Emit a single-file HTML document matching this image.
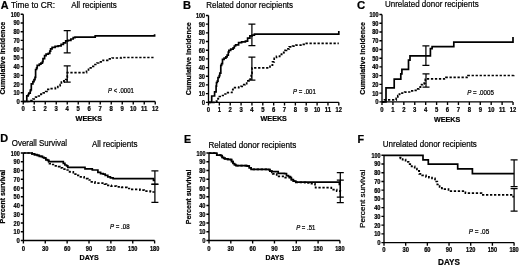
<!DOCTYPE html><html><head><meta charset="utf-8"><style>html,body{margin:0;padding:0;background:#fff;}svg{display:block;filter:blur(0.3px);}</style></head><body>
<svg width="520" height="265" viewBox="0 0 520 265" font-family='"Liberation Sans", sans-serif' fill="#000">
<rect width="520" height="265" fill="#fff"/>
<style>text{stroke:#000;stroke-width:0.22px;}</style>
<path d="M23.25 14.25V101.5M20.65 101.50H23.25M20.65 92.78H23.25M20.65 84.05H23.25M20.65 75.33H23.25M20.65 66.60H23.25M20.65 57.88H23.25M20.65 49.15H23.25M20.65 40.42H23.25M20.65 31.70H23.25M20.65 22.97H23.25M20.65 14.25H23.25M23.25 101.5H155.25M23.25 101.5V104.6M34.25 101.5V104.6M45.25 101.5V104.6M56.25 101.5V104.6M67.25 101.5V104.6M78.25 101.5V104.6M89.25 101.5V104.6M100.25 101.5V104.6M111.25 101.5V104.6M122.25 101.5V104.6M133.25 101.5V104.6M144.25 101.5V104.6M155.25 101.5V104.6" fill="none" stroke="#000" stroke-width="1.35"/>
<text x="19.75" y="104.00" font-size="6.3" font-weight="bold" text-anchor="end" textLength="3.3" lengthAdjust="spacingAndGlyphs">0</text>
<text x="19.75" y="95.28" font-size="6.3" font-weight="bold" text-anchor="end" textLength="6.3" lengthAdjust="spacingAndGlyphs">10</text>
<text x="19.75" y="86.55" font-size="6.3" font-weight="bold" text-anchor="end" textLength="6.3" lengthAdjust="spacingAndGlyphs">20</text>
<text x="19.75" y="77.83" font-size="6.3" font-weight="bold" text-anchor="end" textLength="6.3" lengthAdjust="spacingAndGlyphs">30</text>
<text x="19.75" y="69.10" font-size="6.3" font-weight="bold" text-anchor="end" textLength="6.3" lengthAdjust="spacingAndGlyphs">40</text>
<text x="19.75" y="60.38" font-size="6.3" font-weight="bold" text-anchor="end" textLength="6.3" lengthAdjust="spacingAndGlyphs">50</text>
<text x="19.75" y="51.65" font-size="6.3" font-weight="bold" text-anchor="end" textLength="6.3" lengthAdjust="spacingAndGlyphs">60</text>
<text x="19.75" y="42.92" font-size="6.3" font-weight="bold" text-anchor="end" textLength="6.3" lengthAdjust="spacingAndGlyphs">70</text>
<text x="19.75" y="34.20" font-size="6.3" font-weight="bold" text-anchor="end" textLength="6.3" lengthAdjust="spacingAndGlyphs">80</text>
<text x="19.75" y="25.47" font-size="6.3" font-weight="bold" text-anchor="end" textLength="6.3" lengthAdjust="spacingAndGlyphs">90</text>
<text x="19.75" y="16.75" font-size="6.3" font-weight="bold" text-anchor="end" textLength="9.1" lengthAdjust="spacingAndGlyphs">100</text>
<text x="23.25" y="110.90" font-size="6.3" font-weight="bold" text-anchor="middle" textLength="3.3" lengthAdjust="spacingAndGlyphs">0</text>
<text x="34.25" y="110.90" font-size="6.3" font-weight="bold" text-anchor="middle" textLength="3.3" lengthAdjust="spacingAndGlyphs">1</text>
<text x="45.25" y="110.90" font-size="6.3" font-weight="bold" text-anchor="middle" textLength="3.3" lengthAdjust="spacingAndGlyphs">2</text>
<text x="56.25" y="110.90" font-size="6.3" font-weight="bold" text-anchor="middle" textLength="3.3" lengthAdjust="spacingAndGlyphs">3</text>
<text x="67.25" y="110.90" font-size="6.3" font-weight="bold" text-anchor="middle" textLength="3.3" lengthAdjust="spacingAndGlyphs">4</text>
<text x="78.25" y="110.90" font-size="6.3" font-weight="bold" text-anchor="middle" textLength="3.3" lengthAdjust="spacingAndGlyphs">5</text>
<text x="89.25" y="110.90" font-size="6.3" font-weight="bold" text-anchor="middle" textLength="3.3" lengthAdjust="spacingAndGlyphs">6</text>
<text x="100.25" y="110.90" font-size="6.3" font-weight="bold" text-anchor="middle" textLength="3.3" lengthAdjust="spacingAndGlyphs">7</text>
<text x="111.25" y="110.90" font-size="6.3" font-weight="bold" text-anchor="middle" textLength="3.3" lengthAdjust="spacingAndGlyphs">8</text>
<text x="122.25" y="110.90" font-size="6.3" font-weight="bold" text-anchor="middle" textLength="3.3" lengthAdjust="spacingAndGlyphs">9</text>
<text x="133.25" y="110.90" font-size="6.3" font-weight="bold" text-anchor="middle" textLength="6.4" lengthAdjust="spacingAndGlyphs">10</text>
<text x="144.25" y="110.90" font-size="6.3" font-weight="bold" text-anchor="middle" textLength="6.4" lengthAdjust="spacingAndGlyphs">11</text>
<text x="155.25" y="110.90" font-size="6.3" font-weight="bold" text-anchor="middle" textLength="6.4" lengthAdjust="spacingAndGlyphs">12</text>
<path d="M23.25 101.5H26.8V101.5H26.8V95.9H28.2V94.5H28.8V93.2H30.2V91.1H30.5V89.8H31.3V87.7H31.3V83.8H32.9V81.7H34V79.6H35V77.4H35.6V74.8H35.6V69.5H36.6V67.9H37.2V65.3H39.3V64.2H40.9V63.2H42.4V61.6H43V58.7H44.6V55.6H46.1V54.1H48.3V53.4H49.8V51.1H50.6V48.9H52.1V47.3H55.1V46.3H58.1V45.8H61.1V44.3H63.4V42.8H65.7V40.9H67.9V40.3H70.9V39H73.2V37.7H75V37.2H95.2V35.9H154.6V34.2" fill="none" stroke="#000" stroke-width="1.7"/>
<path d="M23.25 101.5H31V101.5H31V100.6H32.9V99H35.6V97.2H38.5V96H40.9V94.2H43.3V92.9H45.7V91.5H46.9V89.3H50V88.7H55.4V87.5H57.8V85.7H60.2V84.5H61.4V82.1H63.9V80.9H65.7V79.7H66.9V77.2H67.3V72.6H86.5V70H88.5V67.8H91V66.3H95V64.5H97V63H98.6V61.9H103.1V60.3H107.6V58.9H112.1V58H121.2V57.5H154.6V57.5" fill="none" stroke="#000" stroke-width="1.7" stroke-dasharray="2.3 1.7"/>
<path d="M67.2 30.6V52.8M63.7 30.6H70.7M63.7 52.8H70.7" fill="none" stroke="#000" stroke-width="1.25"/>
<path d="M67.2 65.8V82.1M63.7 65.8H70.7M63.7 82.1H70.7" fill="none" stroke="#000" stroke-width="1.25"/>
<path d="M208.5 15.5V102.3M205.9 102.30H208.5M205.9 93.62H208.5M205.9 84.94H208.5M205.9 76.26H208.5M205.9 67.58H208.5M205.9 58.90H208.5M205.9 50.22H208.5M205.9 41.54H208.5M205.9 32.86H208.5M205.9 24.18H208.5M205.9 15.50H208.5M208.5 102.3H338.82M208.50 102.3V105.39999999999999M219.36 102.3V105.39999999999999M230.22 102.3V105.39999999999999M241.08 102.3V105.39999999999999M251.94 102.3V105.39999999999999M262.80 102.3V105.39999999999999M273.66 102.3V105.39999999999999M284.52 102.3V105.39999999999999M295.38 102.3V105.39999999999999M306.24 102.3V105.39999999999999M317.10 102.3V105.39999999999999M327.96 102.3V105.39999999999999M338.82 102.3V105.39999999999999" fill="none" stroke="#000" stroke-width="1.35"/>
<text x="205.00" y="104.80" font-size="6.3" font-weight="bold" text-anchor="end" textLength="3.3" lengthAdjust="spacingAndGlyphs">0</text>
<text x="205.00" y="96.12" font-size="6.3" font-weight="bold" text-anchor="end" textLength="6.3" lengthAdjust="spacingAndGlyphs">10</text>
<text x="205.00" y="87.44" font-size="6.3" font-weight="bold" text-anchor="end" textLength="6.3" lengthAdjust="spacingAndGlyphs">20</text>
<text x="205.00" y="78.76" font-size="6.3" font-weight="bold" text-anchor="end" textLength="6.3" lengthAdjust="spacingAndGlyphs">30</text>
<text x="205.00" y="70.08" font-size="6.3" font-weight="bold" text-anchor="end" textLength="6.3" lengthAdjust="spacingAndGlyphs">40</text>
<text x="205.00" y="61.40" font-size="6.3" font-weight="bold" text-anchor="end" textLength="6.3" lengthAdjust="spacingAndGlyphs">50</text>
<text x="205.00" y="52.72" font-size="6.3" font-weight="bold" text-anchor="end" textLength="6.3" lengthAdjust="spacingAndGlyphs">60</text>
<text x="205.00" y="44.04" font-size="6.3" font-weight="bold" text-anchor="end" textLength="6.3" lengthAdjust="spacingAndGlyphs">70</text>
<text x="205.00" y="35.36" font-size="6.3" font-weight="bold" text-anchor="end" textLength="6.3" lengthAdjust="spacingAndGlyphs">80</text>
<text x="205.00" y="26.68" font-size="6.3" font-weight="bold" text-anchor="end" textLength="6.3" lengthAdjust="spacingAndGlyphs">90</text>
<text x="205.00" y="18.00" font-size="6.3" font-weight="bold" text-anchor="end" textLength="9.1" lengthAdjust="spacingAndGlyphs">100</text>
<text x="208.50" y="111.90" font-size="6.3" font-weight="bold" text-anchor="middle" textLength="3.3" lengthAdjust="spacingAndGlyphs">0</text>
<text x="219.36" y="111.90" font-size="6.3" font-weight="bold" text-anchor="middle" textLength="3.3" lengthAdjust="spacingAndGlyphs">1</text>
<text x="230.22" y="111.90" font-size="6.3" font-weight="bold" text-anchor="middle" textLength="3.3" lengthAdjust="spacingAndGlyphs">2</text>
<text x="241.08" y="111.90" font-size="6.3" font-weight="bold" text-anchor="middle" textLength="3.3" lengthAdjust="spacingAndGlyphs">3</text>
<text x="251.94" y="111.90" font-size="6.3" font-weight="bold" text-anchor="middle" textLength="3.3" lengthAdjust="spacingAndGlyphs">4</text>
<text x="262.80" y="111.90" font-size="6.3" font-weight="bold" text-anchor="middle" textLength="3.3" lengthAdjust="spacingAndGlyphs">5</text>
<text x="273.66" y="111.90" font-size="6.3" font-weight="bold" text-anchor="middle" textLength="3.3" lengthAdjust="spacingAndGlyphs">6</text>
<text x="284.52" y="111.90" font-size="6.3" font-weight="bold" text-anchor="middle" textLength="3.3" lengthAdjust="spacingAndGlyphs">7</text>
<text x="295.38" y="111.90" font-size="6.3" font-weight="bold" text-anchor="middle" textLength="3.3" lengthAdjust="spacingAndGlyphs">8</text>
<text x="306.24" y="111.90" font-size="6.3" font-weight="bold" text-anchor="middle" textLength="3.3" lengthAdjust="spacingAndGlyphs">9</text>
<text x="317.10" y="111.90" font-size="6.3" font-weight="bold" text-anchor="middle" textLength="6.4" lengthAdjust="spacingAndGlyphs">10</text>
<text x="327.96" y="111.90" font-size="6.3" font-weight="bold" text-anchor="middle" textLength="6.4" lengthAdjust="spacingAndGlyphs">11</text>
<text x="338.82" y="111.90" font-size="6.3" font-weight="bold" text-anchor="middle" textLength="6.4" lengthAdjust="spacingAndGlyphs">12</text>
<path d="M208.5 102.3H211.7V102.3H211.7V96H214.6V96H214.6V91.9H216.1V91.9H216.1V86.2H216.5V82.5H217.3V81.2H218V77.5H219.2V75.6H219.8V73.1H220.8V71.9H220.8V65.4H221.6V63.6H222.5V59.3H224.1V58.1H225.9V56.9H227.1V55.1H228.3V52.1H228.9V50.3H230.7V49.1H233.1V47.9H234.3V46H235.6V44.9H238.6V42.6H241.6V41.9H245.4V41.1H247.6V38.1H249.9V35.8H252.2V35.1H254.4V34.1H338.8V31.1" fill="none" stroke="#000" stroke-width="1.7"/>
<path d="M208.5 102.3H216.5V102.3H216.5V101.2H218V98.7H219.4V96.5H221.5V95.5H224V94H226.5V92.6H230.5V92.5H231.9V89.7H233V87.6H238.8V87H241V86.4H242.2V84.7H245V83.6H246.7V80.8H249V79.1H250.7V76.8H251.2V73.4H252V67.9H268.1V67.9H270V65.2H272.5V61.8H274.2V58.4H276.5V56.4H279.7V54.3H281.7V53H283.7V52.3H285.1V50.3H286.5V48.9H289.2V46.9H292.6V46.2H296V45.2H303.4V44.4H305.5V43.3H338.8V43.3" fill="none" stroke="#000" stroke-width="1.7" stroke-dasharray="2.3 1.7"/>
<path d="M251.9 24.2V45.7M248.4 24.2H255.4M248.4 45.7H255.4" fill="none" stroke="#000" stroke-width="1.25"/>
<path d="M251.9 57.2V80.2M248.4 57.2H255.4M248.4 80.2H255.4" fill="none" stroke="#000" stroke-width="1.25"/>
<path d="M382 14.5V101.9M379.4 101.90H382M379.4 93.16H382M379.4 84.42H382M379.4 75.68H382M379.4 66.94H382M379.4 58.20H382M379.4 49.46H382M379.4 40.72H382M379.4 31.98H382M379.4 23.24H382M379.4 14.50H382M382 101.9H513.04M382.00 101.9V105.0M392.92 101.9V105.0M403.84 101.9V105.0M414.76 101.9V105.0M425.68 101.9V105.0M436.60 101.9V105.0M447.52 101.9V105.0M458.44 101.9V105.0M469.36 101.9V105.0M480.28 101.9V105.0M491.20 101.9V105.0M502.12 101.9V105.0M513.04 101.9V105.0" fill="none" stroke="#000" stroke-width="1.35"/>
<text x="378.50" y="104.40" font-size="6.3" font-weight="bold" text-anchor="end" textLength="3.3" lengthAdjust="spacingAndGlyphs">0</text>
<text x="378.50" y="95.66" font-size="6.3" font-weight="bold" text-anchor="end" textLength="6.3" lengthAdjust="spacingAndGlyphs">10</text>
<text x="378.50" y="86.92" font-size="6.3" font-weight="bold" text-anchor="end" textLength="6.3" lengthAdjust="spacingAndGlyphs">20</text>
<text x="378.50" y="78.18" font-size="6.3" font-weight="bold" text-anchor="end" textLength="6.3" lengthAdjust="spacingAndGlyphs">30</text>
<text x="378.50" y="69.44" font-size="6.3" font-weight="bold" text-anchor="end" textLength="6.3" lengthAdjust="spacingAndGlyphs">40</text>
<text x="378.50" y="60.70" font-size="6.3" font-weight="bold" text-anchor="end" textLength="6.3" lengthAdjust="spacingAndGlyphs">50</text>
<text x="378.50" y="51.96" font-size="6.3" font-weight="bold" text-anchor="end" textLength="6.3" lengthAdjust="spacingAndGlyphs">60</text>
<text x="378.50" y="43.22" font-size="6.3" font-weight="bold" text-anchor="end" textLength="6.3" lengthAdjust="spacingAndGlyphs">70</text>
<text x="378.50" y="34.48" font-size="6.3" font-weight="bold" text-anchor="end" textLength="6.3" lengthAdjust="spacingAndGlyphs">80</text>
<text x="378.50" y="25.74" font-size="6.3" font-weight="bold" text-anchor="end" textLength="6.3" lengthAdjust="spacingAndGlyphs">90</text>
<text x="378.50" y="17.00" font-size="6.3" font-weight="bold" text-anchor="end" textLength="9.1" lengthAdjust="spacingAndGlyphs">100</text>
<text x="382.00" y="111.50" font-size="6.3" font-weight="bold" text-anchor="middle" textLength="3.3" lengthAdjust="spacingAndGlyphs">0</text>
<text x="392.92" y="111.50" font-size="6.3" font-weight="bold" text-anchor="middle" textLength="3.3" lengthAdjust="spacingAndGlyphs">1</text>
<text x="403.84" y="111.50" font-size="6.3" font-weight="bold" text-anchor="middle" textLength="3.3" lengthAdjust="spacingAndGlyphs">2</text>
<text x="414.76" y="111.50" font-size="6.3" font-weight="bold" text-anchor="middle" textLength="3.3" lengthAdjust="spacingAndGlyphs">3</text>
<text x="425.68" y="111.50" font-size="6.3" font-weight="bold" text-anchor="middle" textLength="3.3" lengthAdjust="spacingAndGlyphs">4</text>
<text x="436.60" y="111.50" font-size="6.3" font-weight="bold" text-anchor="middle" textLength="3.3" lengthAdjust="spacingAndGlyphs">5</text>
<text x="447.52" y="111.50" font-size="6.3" font-weight="bold" text-anchor="middle" textLength="3.3" lengthAdjust="spacingAndGlyphs">6</text>
<text x="458.44" y="111.50" font-size="6.3" font-weight="bold" text-anchor="middle" textLength="3.3" lengthAdjust="spacingAndGlyphs">7</text>
<text x="469.36" y="111.50" font-size="6.3" font-weight="bold" text-anchor="middle" textLength="3.3" lengthAdjust="spacingAndGlyphs">8</text>
<text x="480.28" y="111.50" font-size="6.3" font-weight="bold" text-anchor="middle" textLength="3.3" lengthAdjust="spacingAndGlyphs">9</text>
<text x="491.20" y="111.50" font-size="6.3" font-weight="bold" text-anchor="middle" textLength="6.4" lengthAdjust="spacingAndGlyphs">10</text>
<text x="502.12" y="111.50" font-size="6.3" font-weight="bold" text-anchor="middle" textLength="6.4" lengthAdjust="spacingAndGlyphs">11</text>
<text x="513.04" y="111.50" font-size="6.3" font-weight="bold" text-anchor="middle" textLength="6.4" lengthAdjust="spacingAndGlyphs">12</text>
<path d="M382 101.9H386V87.8H394.2V79.2H400.8V73.9H401.9V69.3H408.5V60.2H410V55.9H430.4V48.6H432.1V46.6H453.8V42.1H513V37" fill="none" stroke="#000" stroke-width="1.7"/>
<path d="M382 101.9H384.5V101.9H384.5V99.9H394.1V99.9H396.2V98.3H397.8V95.6H399.4V94.1H402V93H404.7V92.2H407.8V92H410.5V90.9H414.2V90.4H416.8V88.8H418.9V87.2H420.5V84.6H422.6V84H424.2V83H425.3V79.3H426.8V78.8H446V77.4H468V75.5H513.7V73.7" fill="none" stroke="#000" stroke-width="1.7" stroke-dasharray="2.3 1.7"/>
<path d="M425.9 45.8V65.3M422.4 45.8H429.4M422.4 65.3H429.4" fill="none" stroke="#000" stroke-width="1.25"/>
<path d="M426 73.9V87.2M422.5 73.9H429.5M422.5 87.2H429.5" fill="none" stroke="#000" stroke-width="1.25"/>
<path d="M23.4 153.0V240.5M20.799999999999997 240.50H23.4M20.799999999999997 231.75H23.4M20.799999999999997 223.00H23.4M20.799999999999997 214.25H23.4M20.799999999999997 205.50H23.4M20.799999999999997 196.75H23.4M20.799999999999997 188.00H23.4M20.799999999999997 179.25H23.4M20.799999999999997 170.50H23.4M20.799999999999997 161.75H23.4M20.799999999999997 153.00H23.4M23.4 240.5H154.62M23.40 240.5V243.6M45.27 240.5V243.6M67.14 240.5V243.6M89.01 240.5V243.6M110.88 240.5V243.6M132.75 240.5V243.6M154.62 240.5V243.6" fill="none" stroke="#000" stroke-width="1.35"/>
<text x="19.90" y="243.00" font-size="6.3" font-weight="bold" text-anchor="end" textLength="3.3" lengthAdjust="spacingAndGlyphs">0</text>
<text x="19.90" y="234.25" font-size="6.3" font-weight="bold" text-anchor="end" textLength="6.3" lengthAdjust="spacingAndGlyphs">10</text>
<text x="19.90" y="225.50" font-size="6.3" font-weight="bold" text-anchor="end" textLength="6.3" lengthAdjust="spacingAndGlyphs">20</text>
<text x="19.90" y="216.75" font-size="6.3" font-weight="bold" text-anchor="end" textLength="6.3" lengthAdjust="spacingAndGlyphs">30</text>
<text x="19.90" y="208.00" font-size="6.3" font-weight="bold" text-anchor="end" textLength="6.3" lengthAdjust="spacingAndGlyphs">40</text>
<text x="19.90" y="199.25" font-size="6.3" font-weight="bold" text-anchor="end" textLength="6.3" lengthAdjust="spacingAndGlyphs">50</text>
<text x="19.90" y="190.50" font-size="6.3" font-weight="bold" text-anchor="end" textLength="6.3" lengthAdjust="spacingAndGlyphs">60</text>
<text x="19.90" y="181.75" font-size="6.3" font-weight="bold" text-anchor="end" textLength="6.3" lengthAdjust="spacingAndGlyphs">70</text>
<text x="19.90" y="173.00" font-size="6.3" font-weight="bold" text-anchor="end" textLength="6.3" lengthAdjust="spacingAndGlyphs">80</text>
<text x="19.90" y="164.25" font-size="6.3" font-weight="bold" text-anchor="end" textLength="6.3" lengthAdjust="spacingAndGlyphs">90</text>
<text x="19.90" y="155.50" font-size="6.3" font-weight="bold" text-anchor="end" textLength="9.1" lengthAdjust="spacingAndGlyphs">100</text>
<text x="23.40" y="250.50" font-size="6.3" font-weight="bold" text-anchor="middle" textLength="3.3" lengthAdjust="spacingAndGlyphs">0</text>
<text x="45.27" y="250.50" font-size="6.3" font-weight="bold" text-anchor="middle" textLength="6.4" lengthAdjust="spacingAndGlyphs">30</text>
<text x="67.14" y="250.50" font-size="6.3" font-weight="bold" text-anchor="middle" textLength="6.4" lengthAdjust="spacingAndGlyphs">60</text>
<text x="89.01" y="250.50" font-size="6.3" font-weight="bold" text-anchor="middle" textLength="6.4" lengthAdjust="spacingAndGlyphs">90</text>
<text x="110.88" y="250.50" font-size="6.3" font-weight="bold" text-anchor="middle" textLength="9.3" lengthAdjust="spacingAndGlyphs">120</text>
<text x="132.75" y="250.50" font-size="6.3" font-weight="bold" text-anchor="middle" textLength="9.3" lengthAdjust="spacingAndGlyphs">150</text>
<text x="154.62" y="250.50" font-size="6.3" font-weight="bold" text-anchor="middle" textLength="9.3" lengthAdjust="spacingAndGlyphs">180</text>
<path d="M23.4 153H29.7V153H32V153.8H34.5V154.6H37V155.4H39.3V156.3H42.5V157.5H44.2V157.9H45.8V159.6H47.5V160.4H48.7V161.6H62V161.6H63.3V163.3H64.9V165H66.6V165.8H67.8V167.3H83.7V167.3H85V168.9H91.4V168.9H92.3V170H96.8V170H97.9V172.3H100.6V173.6H103.2V174.2H105.2V175.3H107.8V176.9H110.4V177.9H113.1V178.7H152V178.7H153.5V180.4H155V180.4" fill="none" stroke="#000" stroke-width="1.7"/>
<path d="M23.4 153H29.7V153H32V153.8H34.5V154.6H37V155.4H39.3V156.3H42.5V157.5H44.2V157.9H45.8V159.6H47.5V160.4H48.7V161.6H49.5V163.7H51.6V164.5H54.5V165.8H57.5V166.6H60V167.9H62.4V169.1H65.8V170H69.6V171.8H73.3V174.1H76.9V175.4H80.5V176.8H84.1V178.6H87.8V180H91.4V181.8H95V183.1H103.2V183.1H104.5V184.1H106.5V185.4H111.1V186.1H116.4V186.8H121.7V187.4H126.9V188.5H130.9V189.4H140V190.1H144.2V191.1H150.4V192H154.9V192.4" fill="none" stroke="#000" stroke-width="1.7" stroke-dasharray="2.3 1.7"/>
<path d="M154.9 170.8V184.4M151.4 170.8H158.4M151.4 184.4H158.4" fill="none" stroke="#000" stroke-width="1.25"/>
<path d="M154.9 184.0V202.3M151.4 184.0H158.4M151.4 202.3H158.4" fill="none" stroke="#000" stroke-width="1.25"/>
<path d="M209 153.0V240.5M206.4 240.50H209M206.4 231.75H209M206.4 223.00H209M206.4 214.25H209M206.4 205.50H209M206.4 196.75H209M206.4 188.00H209M206.4 179.25H209M206.4 170.50H209M206.4 161.75H209M206.4 153.00H209M209 240.5H339.92M209.00 240.5V243.6M230.82 240.5V243.6M252.64 240.5V243.6M274.46 240.5V243.6M296.28 240.5V243.6M318.10 240.5V243.6M339.92 240.5V243.6" fill="none" stroke="#000" stroke-width="1.35"/>
<text x="205.50" y="243.00" font-size="6.3" font-weight="bold" text-anchor="end" textLength="3.3" lengthAdjust="spacingAndGlyphs">0</text>
<text x="205.50" y="234.25" font-size="6.3" font-weight="bold" text-anchor="end" textLength="6.3" lengthAdjust="spacingAndGlyphs">10</text>
<text x="205.50" y="225.50" font-size="6.3" font-weight="bold" text-anchor="end" textLength="6.3" lengthAdjust="spacingAndGlyphs">20</text>
<text x="205.50" y="216.75" font-size="6.3" font-weight="bold" text-anchor="end" textLength="6.3" lengthAdjust="spacingAndGlyphs">30</text>
<text x="205.50" y="208.00" font-size="6.3" font-weight="bold" text-anchor="end" textLength="6.3" lengthAdjust="spacingAndGlyphs">40</text>
<text x="205.50" y="199.25" font-size="6.3" font-weight="bold" text-anchor="end" textLength="6.3" lengthAdjust="spacingAndGlyphs">50</text>
<text x="205.50" y="190.50" font-size="6.3" font-weight="bold" text-anchor="end" textLength="6.3" lengthAdjust="spacingAndGlyphs">60</text>
<text x="205.50" y="181.75" font-size="6.3" font-weight="bold" text-anchor="end" textLength="6.3" lengthAdjust="spacingAndGlyphs">70</text>
<text x="205.50" y="173.00" font-size="6.3" font-weight="bold" text-anchor="end" textLength="6.3" lengthAdjust="spacingAndGlyphs">80</text>
<text x="205.50" y="164.25" font-size="6.3" font-weight="bold" text-anchor="end" textLength="6.3" lengthAdjust="spacingAndGlyphs">90</text>
<text x="205.50" y="155.50" font-size="6.3" font-weight="bold" text-anchor="end" textLength="9.1" lengthAdjust="spacingAndGlyphs">100</text>
<text x="209.00" y="250.50" font-size="6.3" font-weight="bold" text-anchor="middle" textLength="3.3" lengthAdjust="spacingAndGlyphs">0</text>
<text x="230.82" y="250.50" font-size="6.3" font-weight="bold" text-anchor="middle" textLength="6.4" lengthAdjust="spacingAndGlyphs">30</text>
<text x="252.64" y="250.50" font-size="6.3" font-weight="bold" text-anchor="middle" textLength="6.4" lengthAdjust="spacingAndGlyphs">60</text>
<text x="274.46" y="250.50" font-size="6.3" font-weight="bold" text-anchor="middle" textLength="6.4" lengthAdjust="spacingAndGlyphs">90</text>
<text x="296.28" y="250.50" font-size="6.3" font-weight="bold" text-anchor="middle" textLength="9.3" lengthAdjust="spacingAndGlyphs">120</text>
<text x="318.10" y="250.50" font-size="6.3" font-weight="bold" text-anchor="middle" textLength="9.3" lengthAdjust="spacingAndGlyphs">150</text>
<text x="339.92" y="250.50" font-size="6.3" font-weight="bold" text-anchor="middle" textLength="9.3" lengthAdjust="spacingAndGlyphs">180</text>
<path d="M209 153.1H215.4V153.1H216.8V155.1H220.7V155.7H222.2V157.3H223.7V158.3H225.2V158.8H227.6V159.3H230.1V159.6H231.5V161.7H233V163.5H234.5V164.7H235.9V165.7H246.5V165.9H247.2V166.2H249.2V167.8H251.1V169.4H268.4V169.7H269.8V171.1H271.8V171.6H276.7V171.6H278.2V173.3H284.5V173.6H286.5V175.6H288.5V176.5H290.4V177.7H291.4V179.7H293.4V181.2H295.8V182.2H337.4V182.2H339.4V184.3H340.4V184.3" fill="none" stroke="#000" stroke-width="1.7"/>
<path d="M209 153.1H215.4V153.1H216.8V155.1H220.7V155.7H222.2V157.3H223.7V158.3H225.2V158.8H227.6V159.3H230.1V159.6H231.5V161.7H233V163.5H234.5V164.7H235.9V165.7H246.5V165.9H247.2V166.2H249.2V167.8H251.1V169.4H268.4V169.7H269.8V171.1H271.8V172.5H272.8V173.8H276.7V176.3H280.6V176.3H283.1V177.7H288.5V177.7H290.4V178H291.4V179.7H293.4V181.2H295.8V182.4H305.4V182.9H311.5V183.6H315V185.6H315.6V187.7H329.2V187.7H331.3V189.7H336.7V191.1H340.4V191.3" fill="none" stroke="#000" stroke-width="1.7" stroke-dasharray="2.3 1.7"/>
<path d="M340.3 172.7V197.2M336.8 172.7H343.8M336.8 197.2H343.8" fill="none" stroke="#000" stroke-width="1.25"/>
<path d="M340.3 180.2V202.6M336.8 180.2H343.8M336.8 202.6H343.8" fill="none" stroke="#000" stroke-width="1.25"/>
<path d="M384 155.25V242.6M381.4 242.60H384M381.4 233.87H384M381.4 225.13H384M381.4 216.40H384M381.4 207.66H384M381.4 198.93H384M381.4 190.19H384M381.4 181.45H384M381.4 172.72H384M381.4 163.99H384M381.4 155.25H384M384 242.6H514.0799999999999M384.00 242.6V245.7M405.68 242.6V245.7M427.36 242.6V245.7M449.04 242.6V245.7M470.72 242.6V245.7M492.40 242.6V245.7M514.08 242.6V245.7" fill="none" stroke="#000" stroke-width="1.35"/>
<text x="380.50" y="245.10" font-size="6.3" font-weight="bold" text-anchor="end" textLength="3.3" lengthAdjust="spacingAndGlyphs">0</text>
<text x="380.50" y="236.37" font-size="6.3" font-weight="bold" text-anchor="end" textLength="6.3" lengthAdjust="spacingAndGlyphs">10</text>
<text x="380.50" y="227.63" font-size="6.3" font-weight="bold" text-anchor="end" textLength="6.3" lengthAdjust="spacingAndGlyphs">20</text>
<text x="380.50" y="218.90" font-size="6.3" font-weight="bold" text-anchor="end" textLength="6.3" lengthAdjust="spacingAndGlyphs">30</text>
<text x="380.50" y="210.16" font-size="6.3" font-weight="bold" text-anchor="end" textLength="6.3" lengthAdjust="spacingAndGlyphs">40</text>
<text x="380.50" y="201.43" font-size="6.3" font-weight="bold" text-anchor="end" textLength="6.3" lengthAdjust="spacingAndGlyphs">50</text>
<text x="380.50" y="192.69" font-size="6.3" font-weight="bold" text-anchor="end" textLength="6.3" lengthAdjust="spacingAndGlyphs">60</text>
<text x="380.50" y="183.95" font-size="6.3" font-weight="bold" text-anchor="end" textLength="6.3" lengthAdjust="spacingAndGlyphs">70</text>
<text x="380.50" y="175.22" font-size="6.3" font-weight="bold" text-anchor="end" textLength="6.3" lengthAdjust="spacingAndGlyphs">80</text>
<text x="380.50" y="166.49" font-size="6.3" font-weight="bold" text-anchor="end" textLength="6.3" lengthAdjust="spacingAndGlyphs">90</text>
<text x="380.50" y="157.75" font-size="6.3" font-weight="bold" text-anchor="end" textLength="9.1" lengthAdjust="spacingAndGlyphs">100</text>
<text x="384.00" y="252.40" font-size="6.3" font-weight="bold" text-anchor="middle" textLength="3.3" lengthAdjust="spacingAndGlyphs">0</text>
<text x="405.68" y="252.40" font-size="6.3" font-weight="bold" text-anchor="middle" textLength="6.4" lengthAdjust="spacingAndGlyphs">30</text>
<text x="427.36" y="252.40" font-size="6.3" font-weight="bold" text-anchor="middle" textLength="6.4" lengthAdjust="spacingAndGlyphs">60</text>
<text x="449.04" y="252.40" font-size="6.3" font-weight="bold" text-anchor="middle" textLength="6.4" lengthAdjust="spacingAndGlyphs">90</text>
<text x="470.72" y="252.40" font-size="6.3" font-weight="bold" text-anchor="middle" textLength="9.3" lengthAdjust="spacingAndGlyphs">120</text>
<text x="492.40" y="252.40" font-size="6.3" font-weight="bold" text-anchor="middle" textLength="9.3" lengthAdjust="spacingAndGlyphs">150</text>
<text x="514.08" y="252.40" font-size="6.3" font-weight="bold" text-anchor="middle" textLength="9.3" lengthAdjust="spacingAndGlyphs">180</text>
<path d="M384 155.3H423V159.9H428.3V164.1H457.7V168.9H472.4V173.6H514.1V173.6" fill="none" stroke="#000" stroke-width="1.7"/>
<path d="M399.3 157.6H400.6V158.3H402.6V159.6H405.6V161.8H408.6V164.1H411.6V166.4H414.7V168.6H416.9V170.9H419.2V173.9H422.2V175.4H426V176.9H429V177.7H432V178.4H435V181.5H437.3V184.5H439.6V187H441.8V188.3H444.6V189.2H448.5V191.1H465.4V193.1H481.5V194.9H512.3V196.6H514.1V196.6" fill="none" stroke="#000" stroke-width="1.7" stroke-dasharray="2.3 1.7"/>
<path d="M514.1 159.8V186.6M510.6 159.8H517.6M510.6 186.6H517.6" fill="none" stroke="#000" stroke-width="1.25"/>
<path d="M514.1 188.6V211.1M510.6 188.6H517.6M510.6 211.1H517.6" fill="none" stroke="#000" stroke-width="1.25"/>
<text x="0.7" y="8.8" font-size="10.4" font-weight="bold" text-anchor="start" textLength="7.8" lengthAdjust="spacingAndGlyphs">A</text>
<text x="183.0" y="8.9" font-size="10.4" font-weight="bold" text-anchor="start" textLength="8.0" lengthAdjust="spacingAndGlyphs">B</text>
<text x="357.0" y="8.6" font-size="10.6" font-weight="bold" text-anchor="start" textLength="8.2" lengthAdjust="spacingAndGlyphs">C</text>
<text x="0.3" y="142.0" font-size="10.4" font-weight="bold" text-anchor="start" textLength="7.9" lengthAdjust="spacingAndGlyphs">D</text>
<text x="184.1" y="142.9" font-size="10.4" font-weight="bold" text-anchor="start" textLength="7.1" lengthAdjust="spacingAndGlyphs">E</text>
<text x="357.6" y="142.6" font-size="10.4" font-weight="bold" text-anchor="start" textLength="6.6" lengthAdjust="spacingAndGlyphs">F</text>
<text x="11.0" y="7.6" font-size="9.2" text-anchor="start" textLength="44.0" lengthAdjust="spacingAndGlyphs">Time to CR:</text>
<text x="71.2" y="7.6" font-size="9.2" text-anchor="start" textLength="45.7" lengthAdjust="spacingAndGlyphs">All recipients</text>
<text x="206.2" y="8.2" font-size="9.2" text-anchor="start" textLength="86.9" lengthAdjust="spacingAndGlyphs">Related donor recipients</text>
<text x="385" y="7.2" font-size="9.2" text-anchor="start" textLength="93.7" lengthAdjust="spacingAndGlyphs">Unrelated donor recipients</text>
<text x="11.8" y="146.4" font-size="9.2" text-anchor="start" textLength="55.3" lengthAdjust="spacingAndGlyphs">Overall Survival</text>
<text x="91.9" y="146.5" font-size="9.2" text-anchor="start" textLength="45.6" lengthAdjust="spacingAndGlyphs">All recipients</text>
<text x="208.5" y="147.5" font-size="9.2" text-anchor="start" textLength="87.7" lengthAdjust="spacingAndGlyphs">Related donor recipients</text>
<text x="382.7" y="146.9" font-size="9.2" text-anchor="start" textLength="94.2" lengthAdjust="spacingAndGlyphs">Unrelated donor recipients</text>
<text transform="translate(5.4,94.5) rotate(-90)" font-size="7.1" font-weight="bold" textLength="72.80" lengthAdjust="spacingAndGlyphs">Cumulative incidence</text>
<text transform="translate(191.0,95.2) rotate(-90)" font-size="7.1" font-weight="bold" textLength="73.00" lengthAdjust="spacingAndGlyphs">Cumulative incidence</text>
<text transform="translate(364.5,94.7) rotate(-90)" font-size="7.1" font-weight="bold" textLength="72.60" lengthAdjust="spacingAndGlyphs">Cumulative incidence</text>
<text transform="translate(5.4,223.5) rotate(-90)" font-size="7.0" font-weight="bold" textLength="53.80" lengthAdjust="spacingAndGlyphs">Percent survival</text>
<text transform="translate(191.0,224.3) rotate(-90)" font-size="7.0" font-weight="bold" textLength="54.70" lengthAdjust="spacingAndGlyphs">Percent survival</text>
<text transform="translate(365.0,228.0) rotate(-90)" font-size="8.1" textLength="58.40" lengthAdjust="spacingAndGlyphs">Percent survival</text>
<text x="75.6" y="121.3" font-size="7.3" font-weight="bold" text-anchor="start" textLength="26.6" lengthAdjust="spacingAndGlyphs">WEEKS</text>
<text x="260.6" y="121.3" font-size="7.3" font-weight="bold" text-anchor="start" textLength="26.3" lengthAdjust="spacingAndGlyphs">WEEKS</text>
<text x="434" y="121.5" font-size="7.3" font-weight="bold" text-anchor="start" textLength="26.2" lengthAdjust="spacingAndGlyphs">WEEKS</text>
<text x="79.6" y="260.0" font-size="7.8" font-weight="bold" text-anchor="start" textLength="19.2" lengthAdjust="spacingAndGlyphs">DAYS</text>
<text x="265.6" y="260.3" font-size="7.8" font-weight="bold" text-anchor="start" textLength="18.4" lengthAdjust="spacingAndGlyphs">DAYS</text>
<text x="438.1" y="265.0" font-size="9.1" font-weight="bold" text-anchor="start" textLength="21.9" lengthAdjust="spacingAndGlyphs">DAYS</text>
<text x="108.1" y="92.7" font-size="6.7" textLength="25.7" lengthAdjust="spacingAndGlyphs"><tspan font-style="italic">P</tspan> &lt; .0001</text>
<text x="293.1" y="94.2" font-size="6.7" textLength="22.7" lengthAdjust="spacingAndGlyphs"><tspan font-style="italic">P</tspan> = .001</text>
<text x="467.3" y="94.6" font-size="6.7" textLength="26.5" lengthAdjust="spacingAndGlyphs"><tspan font-style="italic">P</tspan> = .0005</text>
<text x="110" y="228.8" font-size="6.7" textLength="19.6" lengthAdjust="spacingAndGlyphs"><tspan font-style="italic">P</tspan> = .08</text>
<text x="296.2" y="230.4" font-size="6.7" textLength="19.2" lengthAdjust="spacingAndGlyphs"><tspan font-style="italic">P</tspan> = .51</text>
<text x="468.8" y="233.8" font-size="6.7" textLength="20.4" lengthAdjust="spacingAndGlyphs"><tspan font-style="italic">P</tspan> = .05</text>
</svg></body></html>
